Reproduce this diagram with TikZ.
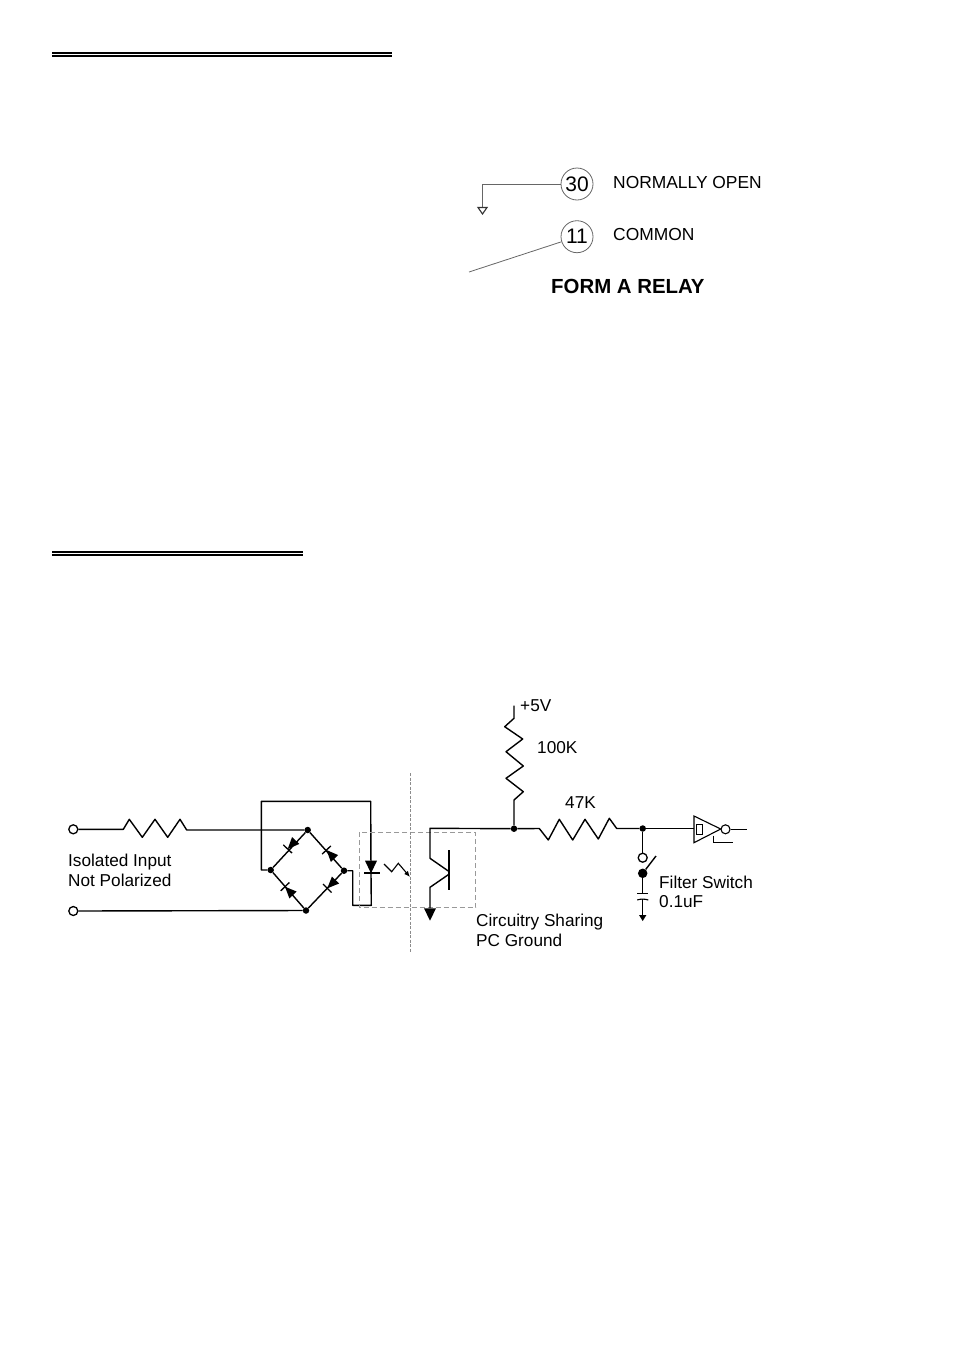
\documentclass[tikz,border=0pt]{standalone}
\usepackage{fontspec}
\setmainfont{Liberation Sans}
\usetikzlibrary{calc,arrows.meta}
\newcommand{\bridgediode}[2]{
   \fill (#1) -- ($(#2)!5pt!90:(#1)$) -- ($(#2)!5pt!-90:(#1)$) -- cycle;
   \draw [line width=1.3pt] ($(#1)!6pt!90:(#2)$) -- ($(#1)!6pt!-90:(#2)$);
}
\begin{document}
\begin{tikzpicture}[x=1pt,y=-1pt]
   \tikzstyle{line} = [draw, line width=1.4pt, line join=round]
   \tikzstyle{thin line} = [draw, black!60, line width=0.8pt]
   \tikzstyle{rule} = [draw, line width=2pt]
   \tikzstyle{grey dash} = [draw, black!40, line width=0.8pt, dash pattern=on 5pt off 3pt]
   \tikzstyle{label} = [anchor=base west, inner sep=0pt, font=\fontsize{17.2}{20}\selectfont]
   \tikzstyle{pin} = [draw=black!60, text=black, circle, line width=0.8pt, minimum size=32pt, inner sep=0pt, font=\fontsize{21}{24}\selectfont]
   \tikzstyle{dot} = [circle, fill, inner sep=0pt, minimum size=6.5pt]
   \tikzstyle{term} = [circle, draw, line width=1.3pt, inner sep=0pt, minimum size=9pt]
   \useasboundingbox (0,0) rectangle (954,1349);

   % heading rules
   \path [rule] (52,53) -- (392,53);
   \path [rule] (52,56) -- (392,56);
   \path [rule] (52,552) -- (303,552);
   \path [rule] (52,555) -- (303,555);

   % relay
   \node [pin] (p30) at (577,184) {30};
   \node [pin] (p11) at (577,236.7) {11};
   \node [label, font=\fontsize{17.4}{20}\selectfont] (no) at (613,188) {NORMALLY OPEN};
   \node [label, font=\fontsize{17.4}{20}\selectfont] (com) at (613,240) {COMMON};
   \node [label, font=\fontsize{20.4}{24}\selectfont\bfseries] (form) at (551,293) {FORM A RELAY};
   \coordinate (nocorner) at (482,184);
   \coordinate (noend) at (482,207);
   \coordinate (comend) at (469,272);
   \path [thin line] (p30) -- (nocorner) -- (noend);
   \path [draw, line width=1.1pt, black!80] (478,207.5) -- (487,207.5) -- (482.5,214) -- cycle;
   \path [thin line] (p11) -- (comend);

   % input side
   \node [term] (ina) at (73.3,829.3) {};
   \node [term] (inb) at (73.3,911) {};
   \node [label] (iso) at (68,866) {Isolated Input};
   \node [label] (pol) at (68,886.7) {Not Polarized};
   \node [dot] (bt) at (307.7,830) {};
   \node [dot] (bl) at (270.7,870) {};
   \node [dot] (br) at (344,870.7) {};
   \node [dot] (bb) at (306,910.5) {};
   \path [line] (ina) -- (123.3,829.3) -- (129.3,819.3) -- (142.3,837.3) -- (155,819.3) -- (167.7,837.3) -- (180,819.3) -- (186.7,830) -- (bt);
   \path [line] (inb) -- (bb);
   \path [line] (bt) -- (bl);
   \path [line] (bt) -- (br);
   \path [line] (bl) -- (bb);
   \path [line] (br) -- (bb);
   \bridgediode{287.7,849}{295.7,840.5}
   \bridgediode{326.5,850}{334.5,858.5}
   \bridgediode{285,886.7}{293,895}
   \bridgediode{327.3,888.3}{335.5,880}

   % opto coupler
   \coordinate (ledtop) at (371,873);
   \coordinate (ledbot) at (371,873.3);
   \path [line] (bl) -- (261.3,870) -- (261.3,801.3) -- (370.7,801.3) -- (ledtop);
   \path [line] (br) -- (352.7,870.7) -- (352.7,905.3) -- (371.3,905.3) -- (ledbot);
   \fill (365,860.7) -- (377,860.7) -- (371,873.3) -- cycle;
   \path [draw, line width=1.8pt] (364,873.3) -- (380,873.3);
   \path [draw, line width=1.1pt, -{Latex[length=6pt,width=5pt]}] (384,864) -- (391.7,871.7) -- (398.3,863.3) -- (410,877);
   \path [grey dash] (359,832.3) rectangle (475.7,907.7);
   \path [draw, black!45, line width=0.7pt, dash pattern=on 3pt off 1.5pt] (410.7,773) -- (410.7,953);

   % transistor
   \node [dot] (j5v) at (514,828.7) {};
   \coordinate (gnd) at (430,908);
   \path [line] (j5v) -- (430,828.3) -- (430,858.3) -- (449.3,871.7);
   \path [line] (449.3,874) -- (430,887.3) -- (gnd);
   \path [draw, line width=2pt] (449.3,850) -- (449.3,890);
   \fill (424,908.3) -- (436,908.3) -- (430,920.7) -- cycle;
   \node [label] (share) at (476,926) {Circuitry Sharing};
   \node [label] (pc) at (476,946) {PC Ground};

   % pull up and output
   \coordinate (vcc) at (514,705.7);
   \node [label] (v5) at (520,711.7) {+5V};
   \node [label] (r100) at (537,753) {100K};
   \node [label] (r47) at (565,808) {47K};
   \node [dot] (jf) at (642.7,828.5) {};
   \path [line] (vcc) -- (514,718.3) -- (504.7,726.7) -- (522.7,739) -- (506,751.7) -- (523.3,766) -- (506,778.3) -- (523.3,791.7) -- (514,800) -- (j5v);
   \path [line] (j5v) -- (539.3,828.5) -- (548.3,840) -- (559.3,819.3) -- (572.7,840) -- (585,819.3) -- (598.3,839) -- (609.3,818.3) -- (616.7,828.5) -- (jf);
   \coordinate (invin) at (694,828.5);
   \path [line] (jf) -- (invin);
   \path [draw, line width=1.1pt] (694,816) -- (720.7,829) -- (694,842.7) -- cycle;
   \path [draw, line width=0.9pt] (696.7,824) rectangle (702.3,834);
   \node [term, line width=1.1pt] (bubble) at (725.5,829.3) {};
   \coordinate (invout) at (746.7,829.3);
   \path [line] (bubble) -- (invout);
   \path [draw, line width=1.1pt] (713.3,835.7) -- (713.3,842.7) -- (733.3,842.7);

   % filter
   \node [term] (swa) at (642.7,857.7) {};
   \node [dot, minimum size=9.5pt] (swb) at (642.7,873.3) {};
   \coordinate (swend) at (656,856);
   \coordinate (capa) at (642.7,893.3);
   \coordinate (capb) at (642.7,899.3);
   \coordinate (capgnd) at (642.7,916);
   \path [line] (jf) -- (swa);
   \path [line] (swb) -- (swend);
   \path [line] (swb) -- (capa);
   \path [line] (capb) -- (capgnd);
   \path [draw, line width=1.1pt] (637.3,893.3) -- (648.3,893.3);
   \path [draw, line width=1.1pt] (637.3,900) .. controls (640,898.8) and (645,898.8) .. (648.3,900);
   \fill (639,915) -- (646.4,915) -- (642.7,921) -- cycle;
   \node [label] (fsw) at (659,888) {Filter Switch};
   \node [label] (fcap) at (659,907) {0.1uF};
\end{tikzpicture}
\end{document}
